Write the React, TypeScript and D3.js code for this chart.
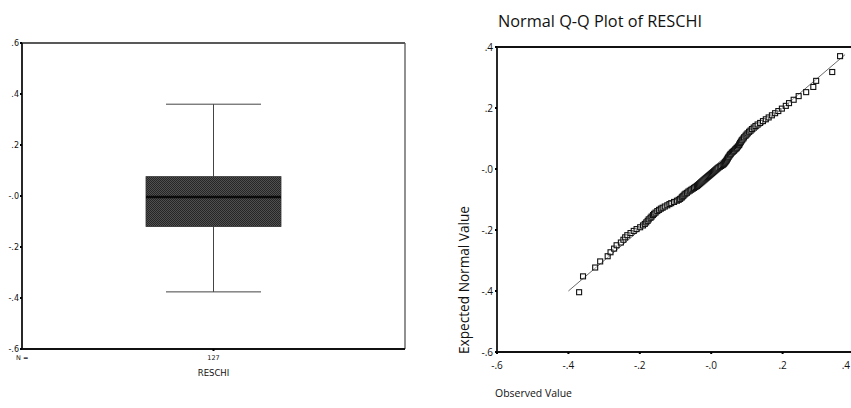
import React from "react";
import * as d3 from "d3";

// Box plot summary of RESCHI (N = 127)
const boxCategory = ["RESCHI"];
const boxN = [127];
const boxStats = { min: -0.376, q1: -0.120, median: -0.004, q3: 0.076, max: 0.360 };
const boxTicks = [0.6, 0.4, 0.2, 0, -0.2, -0.4, -0.6];
const boxTickLabels = [".6", ".4", ".2", "-.0", "-.2", "-.4", "-.6"];

// Normal Q-Q plot: observed (sorted residuals) vs expected normal value
const observed = [
  -0.370, -0.359, -0.325, -0.311, -0.290, -0.282, -0.272, -0.265, -0.253, -0.246,
  -0.241, -0.235, -0.226, -0.217, -0.209, -0.199, -0.191, -0.186, -0.182, -0.178,
  -0.175, -0.170, -0.167, -0.163, -0.160, -0.156, -0.151, -0.146, -0.141, -0.136,
  -0.130, -0.123, -0.117, -0.112, -0.104, -0.096, -0.091, -0.087, -0.083, -0.081,
  -0.078, -0.075, -0.072, -0.068, -0.064, -0.060, -0.056, -0.052, -0.048, -0.044,
  -0.040, -0.037, -0.034, -0.031, -0.028, -0.025, -0.022, -0.019, -0.016, -0.013,
  -0.010, -0.007, -0.004, -0.001, 0.002, 0.005, 0.008, 0.011, 0.014, 0.017,
  0.020, 0.024, 0.028, 0.032, 0.035, 0.037, 0.039, 0.041, 0.043, 0.044,
  0.046, 0.047, 0.049, 0.051, 0.053, 0.055, 0.058, 0.061, 0.064, 0.067,
  0.070, 0.072, 0.075, 0.078, 0.079, 0.081, 0.083, 0.085, 0.087, 0.090,
  0.092, 0.096, 0.099, 0.102, 0.106, 0.110, 0.114, 0.119, 0.124, 0.130,
  0.137, 0.145, 0.153, 0.161, 0.170, 0.179, 0.188, 0.198, 0.209, 0.218,
  0.231, 0.245, 0.266, 0.286, 0.294, 0.339, 0.361,
];
const expected = [
  -0.404, -0.352, -0.323, -0.303, -0.286, -0.273, -0.261, -0.250, -0.241, -0.232,
  -0.224, -0.217, -0.210, -0.203, -0.197, -0.191, -0.185, -0.180, -0.175, -0.170,
  -0.165, -0.160, -0.156, -0.151, -0.147, -0.143, -0.138, -0.134, -0.130, -0.127,
  -0.123, -0.119, -0.115, -0.112, -0.108, -0.104, -0.101, -0.098, -0.094, -0.091,
  -0.088, -0.084, -0.081, -0.078, -0.074, -0.071, -0.068, -0.065, -0.062, -0.059,
  -0.056, -0.053, -0.050, -0.047, -0.044, -0.041, -0.038, -0.035, -0.032, -0.029,
  -0.026, -0.023, -0.020, -0.017, -0.014, -0.011, -0.008, -0.005, -0.002, 0.001,
  0.004, 0.007, 0.010, 0.013, 0.016, 0.019, 0.022, 0.025, 0.028, 0.031,
  0.034, 0.037, 0.040, 0.044, 0.047, 0.050, 0.054, 0.057, 0.060, 0.064,
  0.067, 0.070, 0.074, 0.078, 0.081, 0.085, 0.089, 0.093, 0.096, 0.100,
  0.104, 0.109, 0.113, 0.117, 0.122, 0.126, 0.131, 0.136, 0.141, 0.146,
  0.151, 0.157, 0.163, 0.169, 0.176, 0.183, 0.190, 0.198, 0.207, 0.216,
  0.227, 0.239, 0.252, 0.269, 0.289, 0.318, 0.370,
];
const refLine = [-0.4, 0.375];
const qqYTicks = [0.4, 0.2, 0, -0.2, -0.4, -0.6];
const qqYTickLabels = [".4", ".2", "-.0", "-.2", "-.4", "-.6"];
const qqXTicks = [-0.6, -0.4, -0.2, 0, 0.2, 0.4];
const qqXTickLabels = ["-.6", "-.4", "-.2", "-.0", ".2", ".4"];

const FONT = "'DejaVu Sans', Verdana, sans-serif";
const FONT2 = "'Open Sans', 'Noto Sans', sans-serif";

export default function App() {
  // Left panel scales
  const L = { left: 22, right: 405, top: 43, bottom: 349 };
  const ly = d3.scaleLinear().domain([-0.6, 0.6]).range([L.bottom, L.top]);
  const lx = d3.scaleBand().domain(boxCategory).range([L.left, L.right]);
  const cx = (lx("RESCHI") ?? 0) + lx.bandwidth() / 2;
  const boxW = 135;
  const capW = 95;

  // Right panel scales
  const R = { left: 497, right: 854, top: 47, bottom: 352 };
  const rx = d3.scaleLinear().domain([-0.6, 0.4]).range([R.left, R.right]);
  const ry = d3.scaleLinear().domain([-0.6, 0.4]).range([R.bottom, R.top]);
  const pts = observed.map((o, i) => ({ x: o, y: expected[i] }));
  const sq = 5;

  return (
    <svg
      width={851}
      height={408}
      style={{ position: "absolute", left: 0, top: 0, background: "#fff" }}
    >
      <defs>
        <pattern id="dither" width="2" height="2" patternUnits="userSpaceOnUse">
          <rect width="2" height="2" fill="#505050" />
          <rect width="1" height="1" fill="#262626" />
          <rect x="1" y="1" width="1" height="1" fill="#262626" />
        </pattern>
      </defs>

      {/* ---------- Left: box plot ---------- */}
      <g>
        <line x1={L.left} x2={L.right} y1={L.top} y2={L.top} stroke="#222" strokeWidth={1.5} />
        <line x1={L.right} x2={L.right} y1={L.top} y2={L.bottom} stroke="#555" strokeWidth={1.3} />
        <line x1={L.left} x2={L.right} y1={L.bottom} y2={L.bottom} stroke="#111" strokeWidth={1.8} />
        <line x1={L.left} x2={L.left} y1={L.top} y2={L.bottom} stroke="#111" strokeWidth={1.8} />
        {boxTicks.map((t, i) => (
          <g key={t}>
            <line x1={L.left - 2} x2={L.left} y1={ly(t)} y2={ly(t)} stroke="#000" strokeWidth={2} />
            <text
              x={L.left - 3}
              y={ly(t) + 3}
              fontSize={8}
              textAnchor="end"
              fontFamily={FONT}
              fill="#111"
            >
              {boxTickLabels[i]}
            </text>
          </g>
        ))}
        <line x1={cx} x2={cx} y1={L.bottom} y2={L.bottom + 2} stroke="#000" strokeWidth={2} />
        <text x={16} y={360} fontSize={6.5} fontFamily={FONT} fill="#111">N =</text>
        <text x={cx} y={360} fontSize={6.5} fontFamily={FONT} textAnchor="middle" fill="#111">
          {boxN[0]}
        </text>
        <text x={cx} y={376} fontSize={8.5} fontFamily={FONT} textAnchor="middle" fill="#111">
          {boxCategory[0]}
        </text>

        {/* whiskers */}
        <line x1={cx} x2={cx} y1={ly(boxStats.max)} y2={ly(boxStats.q3)} stroke="#444" strokeWidth={1} />
        <line x1={cx} x2={cx} y1={ly(boxStats.q1)} y2={ly(boxStats.min)} stroke="#444" strokeWidth={1} />
        <line x1={cx - capW / 2} x2={cx + capW / 2} y1={ly(boxStats.max)} y2={ly(boxStats.max)} stroke="#444" strokeWidth={1} />
        <line x1={cx - capW / 2} x2={cx + capW / 2} y1={ly(boxStats.min)} y2={ly(boxStats.min)} stroke="#444" strokeWidth={1} />
        {/* box */}
        <rect
          x={cx - boxW / 2}
          y={ly(boxStats.q3)}
          width={boxW}
          height={ly(boxStats.q1) - ly(boxStats.q3)}
          fill="url(#dither)"
          stroke="#333"
          strokeWidth={0.8}
        />
        <line
          x1={cx - boxW / 2}
          x2={cx + boxW / 2}
          y1={ly(boxStats.median)}
          y2={ly(boxStats.median)}
          stroke="#0a0a0a"
          strokeWidth={2.5}
        />
      </g>

      {/* ---------- Right: normal Q-Q plot ---------- */}
      <g>
        <text x={498} y={27} fontSize={16.5} fontFamily={FONT2} fill="#111" textLength={204} lengthAdjust="spacingAndGlyphs">
          Normal Q-Q Plot of RESCHI
        </text>
        <line x1={R.left} x2={851} y1={R.top} y2={R.top} stroke="#111" strokeWidth={1.8} />
        <line x1={R.left} x2={851} y1={R.bottom} y2={R.bottom} stroke="#111" strokeWidth={1.8} />
        <line x1={R.left} x2={R.left} y1={R.top} y2={R.bottom} stroke="#111" strokeWidth={1.8} />
        {qqYTicks.map((t, i) => (
          <g key={"y" + t}>
            <line x1={R.left - 2} x2={R.left} y1={ry(t)} y2={ry(t)} stroke="#000" strokeWidth={2} />
            <text x={R.left - 4} y={ry(t) + 3.5} fontSize={10} textAnchor="end" fontFamily={FONT2} fill="#111">
              {qqYTickLabels[i]}
            </text>
          </g>
        ))}
        {qqXTicks.map((t, i) => (
          <g key={"x" + t}>
            <line x1={rx(t)} x2={rx(t)} y1={R.bottom} y2={R.bottom + 2} stroke="#000" strokeWidth={2} />
            <text
              x={Math.min(rx(t), 850)}
              y={369}
              fontSize={10}
              textAnchor={rx(t) > 840 ? "end" : "middle"}
              fontFamily={FONT2}
              fill="#111"
            >
              {qqXTickLabels[i]}
            </text>
          </g>
        ))}
        <text
          transform={`translate(469,${280}) rotate(-90)`}
          fontSize={14}
          textAnchor="middle"
          fontFamily={FONT2}
          fill="#111"
          textLength={148}
          lengthAdjust="spacingAndGlyphs"
        >
          Expected Normal Value
        </text>
        <text x={495} y={397} fontSize={11.5} fontFamily={FONT2} fill="#111" textLength={77} lengthAdjust="spacingAndGlyphs">
          Observed Value
        </text>

        <line
          x1={rx(refLine[0])}
          y1={ry(refLine[0])}
          x2={rx(refLine[1])}
          y2={ry(refLine[1])}
          stroke="#444"
          strokeWidth={0.8}
        />
        {pts.map((p, i) => (
          <rect
            key={i}
            x={rx(p.x) - sq / 2}
            y={ry(p.y) - sq / 2}
            width={sq}
            height={sq}
            fill="#fff"
            fillOpacity={0.4}
            stroke="#111"
            strokeWidth={1.1}
          />
        ))}
      </g>
    </svg>
  );
}
